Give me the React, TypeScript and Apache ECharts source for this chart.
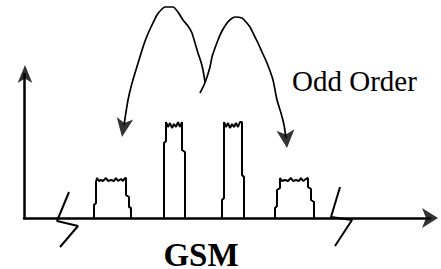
import React, { useEffect, useRef } from "react";
import * as echarts from "echarts";

// Schematic spectrum (x: frequency units, y: power units)
const carrier1: number[][] = [[70,0],[70,13],[72,15],[72,36],[73,40],[75,37],[77,38],[79,37],[82,40],[84,37],[87,38],[90,37],[92,40],[94,37],[97,39],[99,37],[101,40],[102,40],[102,23],[105,21],[105,11],[107,10],[107,0]];
const carrier2: number[][] = [[140,0],[140,75],[142,77],[142,96],[144,91],[146,95],[148,90],[150,94],[152,91],[154,96],[156,91],[158,96],[158,68],[161,66],[161,0]];
const carrier3: number[][] = [[198,0],[198,18],[200,20],[200,96],[202,91],[204,95],[206,90],[208,94],[210,91],[212,95],[214,91],[216,96],[218,96],[218,43],[220,41],[220,0]];
const carrier4: number[][] = [[251,0],[251,10],[253,12],[253,28],[256,30],[256,40],[258,37],[261,38],[264,37],[267,40],[269,37],[272,38],[275,37],[277,40],[279,37],[282,39],[284,40],[284,31],[287,29],[287,18],[290,16],[290,0]];

// intermodulation arcs
const arcLeft: number[][] = [[100,93],[102,106],[104,118],[107,131],[111,145],[115,158],[119,171],[123,182],[128,193],[133,203],[137,208],[141,211],[149,211],[154,206],[159,198],[164,192],[168,185],[171,175],[174,165],[177,156],[179,148],[181,136]];
const arcRight: number[][] = [[176,125],[180,133],[183,141],[186,151],[188,161],[191,170],[194,178],[198,187],[203,195],[207,199],[211,201],[218,200],[222,196],[226,191],[230,183],[234,175],[238,166],[243,155],[249,138],[253,118],[257,105],[260,93],[262,80]];

// arrowheads (tip point): [x, y, rotation, width, length]
const arrowHeads: number[][] = [
  [98, 81, 171, 12.5, 19],
  [263, 70, 185, 13.5, 18],
  [414, 0, -90, 15, 16],
  [1, 153, 0, 11, 18],
];

// axis break marks
const breakLeft: number[][] = [[45,26],[33,-3],[54,-8],[36,-29]];
const breakRight: number[][] = [[316,31],[307,1],[328,-2],[311,-28]];

const xMax = 406;
const yMax = 144;

const oddLabel = "Odd Order";
const bandLabel = "GSM";

export default function App() {
  const ref = useRef<HTMLDivElement>(null);
  useEffect(() => {
    if (!ref.current) return;
    const chart = echarts.init(ref.current, null, { renderer: "svg" });
    const lineSeries = (data: number[][], width: number, smooth: boolean | number = false) => ({
      type: "line",
      data,
      smooth,
      showSymbol: false,
      symbol: "none",
      clip: false,
      silent: true,
      lineStyle: { color: "#000", width },
    });
    const axisCommon = {
      type: "value",
      axisLine: {
        show: true,
        lineStyle: { color: "#000", width: 2.5 },
      },
      axisTick: { show: false },
      axisLabel: { show: false },
      splitLine: { show: false },
    };
    chart.setOption({
      animation: false,
      grid: { left: 24, right: 11, top: 74, bottom: 51, outerBoundsMode: "none" },
      xAxis: { ...axisCommon, min: 0, max: xMax },
      yAxis: { ...axisCommon, min: 0, max: yMax },
      series: [
        lineSeries(carrier1, 2),
        lineSeries(carrier2, 2),
        lineSeries(carrier3, 2),
        lineSeries(carrier4, 2),
        lineSeries(arcLeft, 1.7, 0.15),
        lineSeries(arcRight, 1.7, 0.15),
        lineSeries(breakLeft, 2),
        lineSeries(breakRight, 2),
        {
          type: "scatter",
          silent: true,
          clip: false,
          symbol: "arrow",
          itemStyle: { color: "#000" },
          data: arrowHeads.map((a) => ({
            value: [a[0], a[1]],
            symbolRotate: a[2],
            symbolSize: [a[3], a[4]],
          })),
        },
      ],
      graphic: [
        {
          type: "text",
          x: 292,
          y: 80.5,
          style: {
            text: oddLabel,
            font: "29px 'Liberation Serif', 'Times New Roman', serif",
            fill: "#000",
            align: "left",
            verticalAlign: "middle",
          },
        },
        {
          type: "text",
          x: 201,
          y: 255,
          style: {
            text: bandLabel,
            font: "bold 33px 'Liberation Serif', 'Times New Roman', serif",
            fill: "#000",
            align: "center",
            verticalAlign: "middle",
          },
        },
      ],
    });
    return () => chart.dispose();
  }, []);
  return (
    <div
      ref={ref}
      style={{ position: "fixed", left: 0, top: 0, width: 441, height: 269, background: "#fff" }}
    />
  );
}
